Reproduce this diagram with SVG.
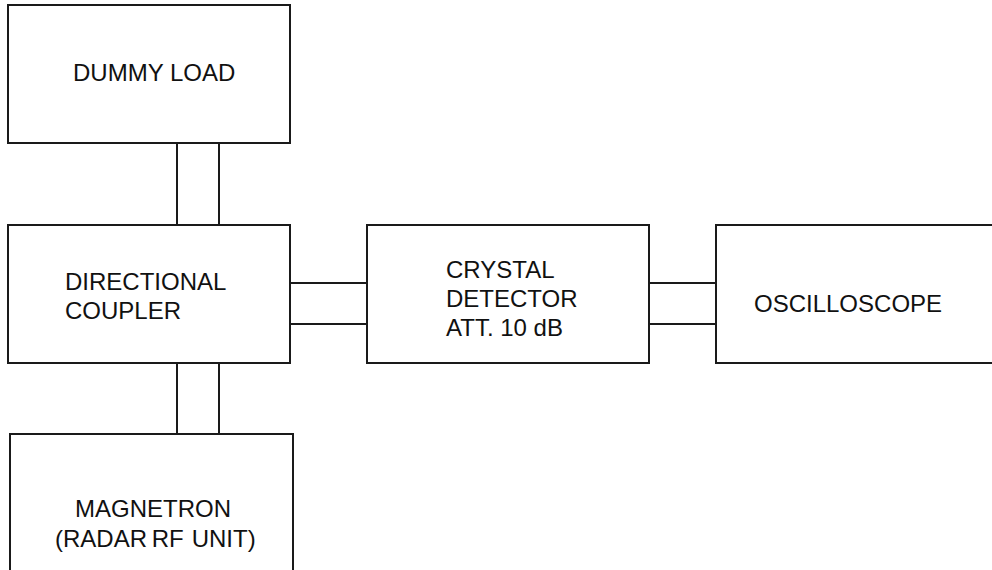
<svg xmlns="http://www.w3.org/2000/svg" width="992" height="570" viewBox="0 0 992 570">
<style>
.box{fill:#fff;stroke:#1a1a1a;stroke-width:2}
.wire{fill:none;stroke:#1a1a1a;stroke-width:2}
text{font-family:"Liberation Sans",Arial,sans-serif;font-size:24px;fill:#111}
</style>
<rect width="992" height="570" fill="#fff"/>
<g id="connectors">
<line class="wire" x1="177" y1="143" x2="177" y2="225"/>
<line class="wire" x1="219" y1="143" x2="219" y2="225"/>
<line class="wire" x1="177" y1="363" x2="177" y2="434"/>
<line class="wire" x1="219" y1="363" x2="219" y2="434"/>
<line class="wire" x1="290" y1="283" x2="367" y2="283"/>
<line class="wire" x1="290" y1="324" x2="367" y2="324"/>
<line class="wire" x1="649" y1="283" x2="716" y2="283"/>
<line class="wire" x1="649" y1="324" x2="716" y2="324"/>
</g>
<g id="dummy-load">
<rect class="box" x="8" y="5" width="282" height="138"/>
<text x="73" y="81">DUMMY LOAD</text>
</g>
<g id="directional-coupler">
<rect class="box" x="8" y="225" width="282" height="138"/>
<text x="65" y="290">DIRECTIONAL</text>
<text x="65" y="319">COUPLER</text>
</g>
<g id="crystal-detector">
<rect class="box" x="367" y="225" width="282" height="138"/>
<text x="446" y="278">CRYSTAL</text>
<text x="446" y="307">DETECTOR</text>
<text x="446" y="336">ATT. 10 dB</text>
</g>
<g id="oscilloscope">
<rect class="box" x="716" y="225" width="290" height="138"/>
<text x="754" y="312">OSCILLOSCOPE</text>
</g>
<g id="magnetron">
<rect class="box" x="10" y="434" width="283" height="150"/>
<text x="75" y="517">MAGNETRON</text>
<text x="55" y="547" word-spacing="-2">(RADAR RF<tspan dx="8">UNIT)</tspan></text>
</g>
</svg>
